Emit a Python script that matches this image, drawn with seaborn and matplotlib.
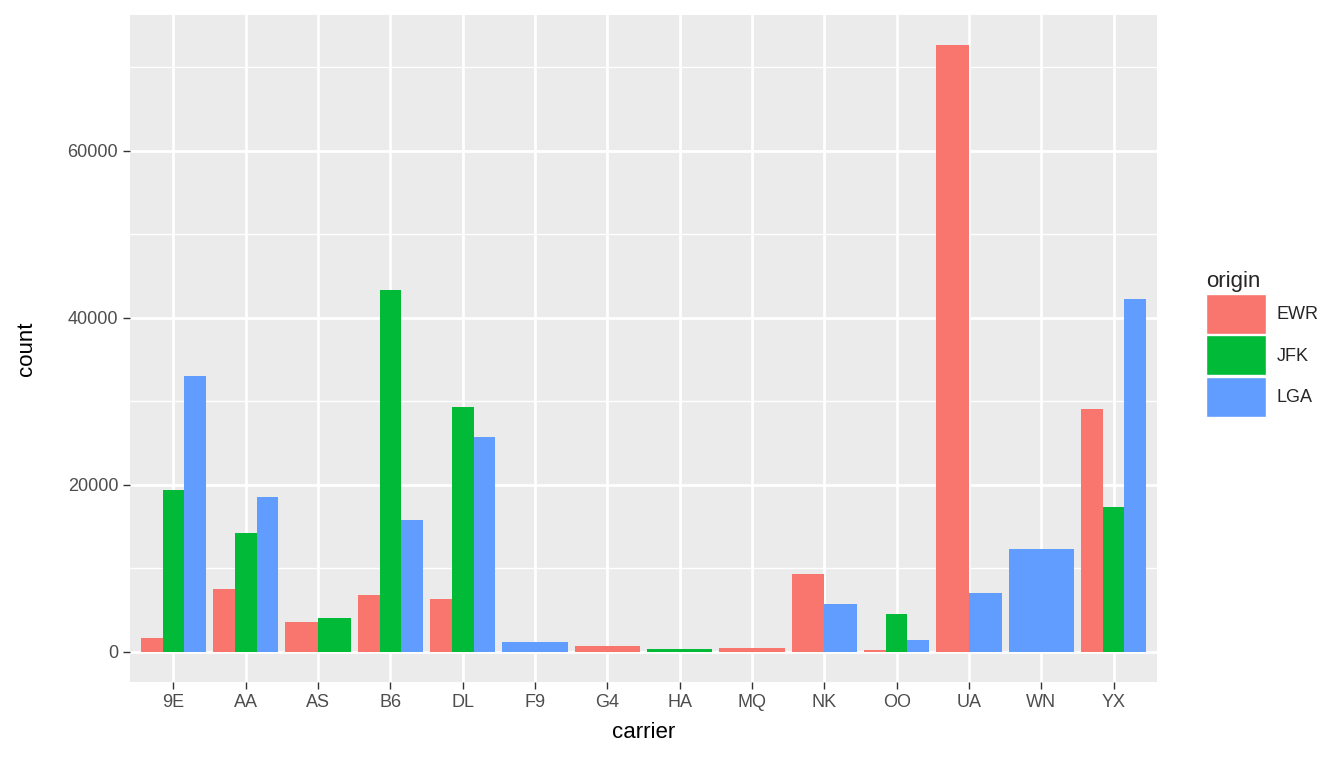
import matplotlib
matplotlib.use("Agg")
import matplotlib.pyplot as plt
import seaborn as sns
from matplotlib.patches import Patch

carriers = ["9E","AA","AS","B6","DL","F9","G4","HA","MQ","NK","OO","UA","WN","YX"]
origins = ["EWR","JFK","LGA"]
ewr = [1680, 7550, 3590, 6830, 6350, None, 670, None, 393, 9340, 250, 72600, None, 29100]
jfk = [19300, 14250, 4070, 43350, 29340, None, None, 342, None, None, 4550, None, None, 17370]
lga = [33050, 18560, None, 15810, 25750, 1200, None, None, None, 5750, 1440, 7070, 12330, 42280]
colors = {"EWR": "#F8766D", "JFK": "#00BA38", "LGA": "#619CFF"}

sns.set_theme(style="darkgrid", rc={"axes.facecolor": "#EBEBEB", "grid.color": "white"})
plt.rcParams['font.family'] = ['Liberation Sans', 'DejaVu Sans']
fig = plt.figure(figsize=(13.44, 7.68), dpi=100)
ax = fig.add_axes([130/1344, 86/768, 1027/1344, 667/768])

series = {"EWR": ewr, "JFK": jfk, "LGA": lga}
for i, c in enumerate(carriers):
    present = [o for o in origins if series[o][i] is not None]
    n = len(present)
    w = 0.9 / n
    for j, o in enumerate(present):
        x = i - 0.45 + w * (j + 0.5)
        ax.bar(x, series[o][i], width=w, color=colors[o], linewidth=0)

ax.set_xlim(-0.6, len(carriers) - 0.4)
ax.set_ylim(-3630, 76230)
ax.set_xticks(range(len(carriers)))
ax.set_xticklabels(carriers)
ax.set_yticks([0, 20000, 40000, 60000])
ax.set_yticks([10000, 30000, 50000, 70000], minor=True)
ax.grid(which="major", color="white", linewidth=2)
ax.grid(which="minor", color="white", linewidth=1)
ax.tick_params(axis="both", which="major", labelsize=13, labelcolor="#4D4D4D", length=5, color="#333333", width=1, direction="out")
ax.tick_params(which="minor", length=0)
ax.tick_params(bottom=True, left=True)
for s in ax.spines.values():
    s.set_visible(False)
ax.set_xlabel("carrier", fontsize=16, color="black", labelpad=8)
ax.set_ylabel("count", fontsize=16, color="black", labelpad=22)

handles = [Patch(facecolor=colors[o], edgecolor="white", label=o) for o in origins]
leg = fig.legend(handles=handles, title="origin", loc="upper left", bbox_to_anchor=(1190/1344, 1 - 255/768),
                 frameon=False, fontsize=13, title_fontsize=16, handlelength=3.3, handleheight=3.0,
                 labelspacing=0.1, handletextpad=0.6, alignment="left")
fig.savefig("out.png", dpi=100)
